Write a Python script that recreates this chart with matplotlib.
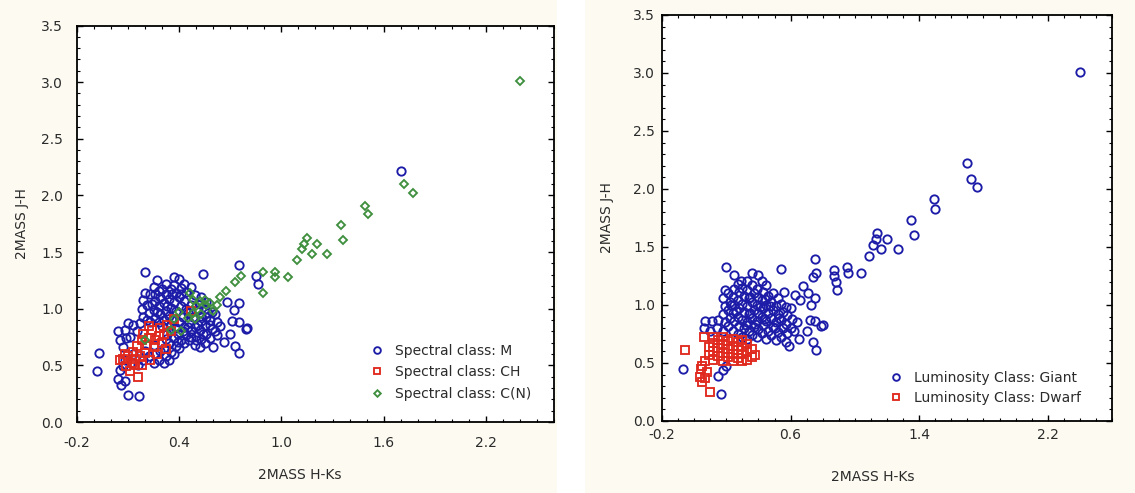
import matplotlib
matplotlib.use("Agg")
import matplotlib.pyplot as plt
from matplotlib.ticker import MultipleLocator, FixedLocator, FormatStrFormatter

plt.rcParams['font.family'] = ['DejaVu Sans']

# ---------------- data: left panel (spectral class) ----------------
spec_M = [
    (-0.07, 0.61), (-0.08, 0.45), (0.04, 0.38), (0.06, 0.33), (0.08, 0.36), (0.10, 0.24),
    (0.165, 0.23), (0.05, 0.46), (0.07, 0.49),
    (0.75, 1.39), (0.54, 1.31), (0.85, 1.29), (0.86, 1.22), (1.70, 2.22),
    (0.75, 1.05), (0.72, 0.99), (0.68, 1.06), (0.71, 0.89), (0.75, 0.88), (0.80, 0.83),
    (0.79, 0.82), (0.73, 0.67), (0.75, 0.61), (0.66, 0.71), (0.70, 0.78), (0.60, 0.66),
    (0.62, 0.77), (0.64, 0.85), (0.58, 0.86),
    (0.05, 0.72), (0.04, 0.80),
    (0.08, 0.55), (0.07, 0.66), (0.09, 0.74), (0.08, 0.81), (0.10, 0.87),
    (0.12, 0.52), (0.13, 0.60), (0.11, 0.75), (0.13, 0.86),
    (0.16, 0.50), (0.15, 0.80), (0.17, 0.87),
    (0.19, 0.55), (0.20, 0.63), (0.19, 0.93), (0.18, 1.00), (0.19, 1.08), (0.20, 1.14), (0.20, 1.32),
    (0.22, 0.58), (0.23, 0.88), (0.22, 0.96), (0.21, 1.03), (0.23, 1.13),
    (0.25, 0.52), (0.26, 0.60), (0.25, 0.68), (0.26, 0.92), (0.25, 0.99), (0.26, 1.07), (0.25, 1.19), (0.27, 1.25),
    (0.28, 0.55), (0.29, 0.63), (0.28, 0.88), (0.29, 0.95), (0.28, 1.02), (0.29, 1.10), (0.28, 1.16),
    (0.31, 0.52), (0.32, 0.58), (0.31, 0.65), (0.32, 0.73), (0.31, 0.90), (0.32, 0.98),
    (0.31, 1.05), (0.32, 1.13), (0.32, 1.22),
    (0.34, 0.55), (0.35, 0.62), (0.34, 0.70), (0.35, 0.86), (0.34, 0.94), (0.35, 1.01),
    (0.34, 1.09), (0.35, 1.17),
    (0.37, 0.60), (0.38, 0.67), (0.37, 0.74), (0.38, 0.83), (0.38, 0.98), (0.37, 1.06),
    (0.38, 1.14), (0.37, 1.21), (0.37, 1.28),
    (0.40, 0.65), (0.41, 0.72), (0.40, 0.88), (0.41, 1.02), (0.40, 1.10), (0.41, 1.18), (0.40, 1.26),
    (0.43, 0.70), (0.44, 0.77), (0.43, 0.84), (0.44, 1.00), (0.43, 1.07), (0.44, 1.15), (0.43, 1.22),
    (0.46, 0.72), (0.47, 0.80), (0.46, 0.88), (0.47, 1.03), (0.47, 1.19),
    (0.49, 0.68), (0.50, 0.76), (0.49, 0.84), (0.51, 0.99), (0.49, 1.12),
    (0.52, 0.66), (0.53, 0.73), (0.52, 0.81), (0.53, 0.89), (0.52, 1.04), (0.53, 1.10),
    (0.55, 0.70), (0.56, 0.78), (0.55, 0.86), (0.56, 0.93), (0.55, 1.00), (0.56, 1.06),
    (0.58, 0.74), (0.59, 0.82), (0.58, 0.90), (0.59, 0.97),
    (0.61, 0.80), (0.62, 0.88), (0.61, 0.95),
    (0.33, 0.78), (0.36, 0.90), (0.39, 0.78), (0.42, 0.93), (0.45, 0.84), (0.48, 0.93),
    (0.51, 0.86), (0.54, 0.78), (0.30, 0.85), (0.27, 0.97), (0.24, 1.04), (0.36, 1.13),
    (0.42, 0.80), (0.45, 0.96), (0.50, 0.72), (0.57, 0.96), (0.39, 0.71), (0.33, 1.02),
    (0.30, 1.17), (0.26, 1.13), (0.21, 0.90), (0.41, 1.13), (0.47, 0.75), (0.53, 0.94),
]
spec_CH = [
    (0.05, 0.55), (0.07, 0.56), (0.09, 0.49), (0.10, 0.58), (0.12, 0.52), (0.14, 0.50),
    (0.13, 0.62), (0.16, 0.40), (0.17, 0.58), (0.15, 0.67), (0.18, 0.72), (0.20, 0.61),
    (0.21, 0.68), (0.19, 0.78), (0.22, 0.74), (0.24, 0.81), (0.23, 0.55), (0.25, 0.66),
    (0.26, 0.72), (0.27, 0.60), (0.28, 0.76), (0.29, 0.83), (0.30, 0.70), (0.31, 0.78),
    (0.33, 0.86), (0.32, 0.64), (0.35, 0.80), (0.37, 0.91), (0.47, 0.98), (0.11, 0.45),
    (0.18, 0.50), (0.22, 0.85), (0.08, 0.60), (0.14, 0.56),
]
spec_CN = [
    (2.40, 3.01), (1.72, 2.10), (1.77, 2.02), (1.49, 1.91), (1.51, 1.84), (1.35, 1.74),
    (1.36, 1.61), (1.15, 1.62), (1.13, 1.57), (1.12, 1.53), (1.18, 1.48), (1.21, 1.57),
    (1.27, 1.48), (1.09, 1.43), (1.04, 1.28), (0.96, 1.32), (0.96, 1.28), (0.89, 1.32),
    (0.89, 1.14), (0.76, 1.29), (0.73, 1.24), (0.675, 1.16), (0.64, 1.10), (0.62, 1.03),
    (0.465, 1.14), (0.48, 1.08), (0.52, 1.07), (0.55, 1.08), (0.50, 1.02), (0.56, 1.03),
    (0.48, 0.96), (0.45, 0.92), (0.40, 0.97), (0.37, 0.91), (0.35, 0.81), (0.20, 0.72),
    (0.41, 0.80), (0.49, 0.91), (0.60, 0.98), (0.58, 1.05), (0.53, 0.95),
]

# ---------------- data: right panel (luminosity class) ----------------
lum_giant = [
    (2.40, 3.01), (1.70, 2.22), (1.72, 2.09), (1.76, 2.02), (1.49, 1.91), (1.50, 1.83),
    (1.35, 1.73), (1.37, 1.60), (1.14, 1.62), (1.13, 1.57), (1.11, 1.52), (1.16, 1.48),
    (1.20, 1.57), (1.27, 1.48), (1.09, 1.42), (1.04, 1.28), (0.95, 1.33), (0.96, 1.28),
    (0.87, 1.30), (0.87, 1.25), (0.88, 1.20), (0.89, 1.13), (0.75, 1.40), (0.76, 1.28),
    (0.74, 1.24), (0.54, 1.31), (0.68, 1.16), (0.71, 1.10), (0.75, 1.06), (0.73, 1.00),
    (0.80, 0.83), (0.79, 0.82), (0.74, 0.68), (0.76, 0.61), (0.70, 0.78), (0.72, 0.87),
    (0.75, 0.86), (0.65, 0.71), (0.59, 0.65), (0.62, 0.78), (0.64, 0.85), (0.66, 1.04),
    (0.63, 1.09), (0.60, 0.97),
    (-0.07, 0.45), (0.165, 0.23), (0.15, 0.39), (0.20, 0.47), (0.18, 0.44),
    (0.06, 0.80), (0.07, 0.86),
    (0.10, 0.78), (0.11, 0.86),
    (0.14, 0.80), (0.15, 0.87),
    (0.18, 0.78), (0.19, 0.85), (0.18, 0.92), (0.19, 0.99), (0.18, 1.06), (0.19, 1.13), (0.20, 1.33),
    (0.21, 0.82), (0.22, 0.89), (0.21, 0.96), (0.22, 1.03), (0.21, 1.10),
    (0.24, 0.78), (0.25, 0.86), (0.24, 0.93), (0.25, 1.00), (0.24, 1.07), (0.25, 1.14), (0.25, 1.26),
    (0.27, 0.75), (0.28, 0.82), (0.27, 0.90), (0.28, 0.97), (0.27, 1.04), (0.28, 1.11), (0.27, 1.18), (0.29, 1.21),
    (0.30, 0.72), (0.31, 0.80), (0.30, 0.87), (0.31, 0.94), (0.30, 1.01), (0.31, 1.08), (0.30, 1.15),
    (0.33, 0.71), (0.34, 0.78), (0.33, 0.85), (0.34, 0.92), (0.33, 0.99), (0.34, 1.06), (0.33, 1.13), (0.33, 1.21),
    (0.36, 0.74), (0.37, 0.81), (0.36, 0.89), (0.37, 0.96), (0.36, 1.03), (0.37, 1.10), (0.36, 1.17), (0.36, 1.28),
    (0.39, 0.72), (0.40, 0.79), (0.39, 0.86), (0.40, 0.93), (0.39, 1.00), (0.40, 1.07), (0.39, 1.14), (0.40, 1.26),
    (0.42, 0.76), (0.43, 0.83), (0.42, 0.90), (0.43, 0.97), (0.42, 1.04), (0.43, 1.11), (0.42, 1.21),
    (0.45, 0.71), (0.46, 0.78), (0.45, 0.86), (0.46, 0.93), (0.45, 1.00), (0.46, 1.08), (0.45, 1.17),
    (0.48, 0.74), (0.49, 0.81), (0.48, 0.89), (0.49, 0.96), (0.48, 1.03), (0.49, 1.10),
    (0.51, 0.70), (0.52, 0.77), (0.51, 0.85), (0.52, 0.92), (0.51, 0.99), (0.52, 1.06),
    (0.54, 0.72), (0.55, 0.80), (0.54, 0.87), (0.55, 0.94), (0.54, 1.01), (0.56, 1.11),
    (0.57, 0.68), (0.58, 0.76), (0.57, 0.84), (0.58, 0.91), (0.57, 0.98),
    (0.60, 0.80), (0.61, 0.88),
    (0.32, 0.83), (0.35, 0.93), (0.38, 0.84), (0.41, 0.98), (0.44, 0.88), (0.47, 0.99),
    (0.50, 0.80), (0.53, 0.89), (0.26, 0.95), (0.23, 1.00), (0.35, 1.07), (0.44, 1.05),
]
lum_dwarf = [
    (-0.06, 0.61), (0.036, 0.38), (0.05, 0.34), (0.10, 0.25), (0.07, 0.37), (0.05, 0.47),
    (0.07, 0.52), (0.06, 0.72), (0.04, 0.45), (0.08, 0.42),
    (0.09, 0.57), (0.09, 0.64),
    (0.12, 0.53), (0.12, 0.60), (0.12, 0.67), (0.12, 0.72),
    (0.15, 0.56), (0.15, 0.63), (0.15, 0.70),
    (0.18, 0.52), (0.18, 0.59), (0.18, 0.66), (0.18, 0.72),
    (0.21, 0.55), (0.21, 0.62), (0.21, 0.69),
    (0.24, 0.52), (0.24, 0.58), (0.24, 0.65), (0.24, 0.71),
    (0.27, 0.54), (0.27, 0.61), (0.27, 0.68),
    (0.30, 0.52), (0.30, 0.58), (0.30, 0.64), (0.30, 0.70),
    (0.33, 0.53), (0.33, 0.60), (0.33, 0.66),
    (0.36, 0.55), (0.36, 0.62), (0.38, 0.57),
]

x_label = "2MASS H-Ks"
y_label = "2MASS J-H"
left_xticks = [-0.2, 0.4, 1.0, 1.6, 2.2]
right_xticks = [-0.2, 0.6, 1.4, 2.2]
y_ticks = [0.0, 0.5, 1.0, 1.5, 2.0, 2.5, 3.0, 3.5]
left_labels = ["Spectral class: M", "Spectral class: CH", "Spectral class: C(N)"]
right_labels = ["Luminosity Class: Giant", "Luminosity Class: Dwarf"]

BLUE = "#1c1ca8"
RED = "#e02a20"
GREEN = "#3f8f3f"
TXT = "#2b2b2b"

W, H = 1135, 493
fig = plt.figure(figsize=(W / 100, H / 100), dpi=100, facecolor="#fcfaf1")


def px_axes(x0, x1, ytop, ybot):
    return fig.add_axes([x0 / W, 1 - ybot / H, (x1 - x0) / W, (ybot - ytop) / H])


def style(ax, xticks, pad):
    ax.set_xlim(-0.2, 2.6)
    ax.set_ylim(0.0, 3.5)
    ax.xaxis.set_major_locator(FixedLocator(xticks))
    ax.xaxis.set_minor_locator(MultipleLocator(0.1))
    ax.yaxis.set_major_locator(FixedLocator(y_ticks))
    ax.yaxis.set_minor_locator(MultipleLocator(0.1))
    ax.xaxis.set_major_formatter(FormatStrFormatter('%.1f'))
    ax.yaxis.set_major_formatter(FormatStrFormatter('%.1f'))
    ax.tick_params(which='both', direction='in', top=True, right=True, colors='black',
                   labelcolor=TXT, labelsize=10, pad=pad)
    ax.tick_params(which='major', length=4, width=1.0)
    ax.tick_params(which='minor', length=2.5, width=0.8)
    for s in ax.spines.values():
        s.set_linewidth(1.3)
        s.set_color('black')
    ax.set_facecolor('white')


def scatter(ax, pts, marker, color, ms, label):
    xs = [p[0] for p in pts]
    ys = [p[1] for p in pts]
    return ax.plot(xs, ys, linestyle='none', marker=marker, markersize=ms,
                   markerfacecolor='none', markeredgecolor=color, markeredgewidth=1.35,
                   label=label)[0]


# white strip between the two pictures
fig.patches.append(plt.Rectangle((557 / W, 0), 28 / W, 1, transform=fig.transFigure,
                                 facecolor='white', edgecolor='none', zorder=-1))

# left panel
axL = px_axes(77, 554, 25.5, 422)
style(axL, left_xticks, 10)
h1 = scatter(axL, spec_M, 'o', BLUE, 6.0, left_labels[0])
h2 = scatter(axL, spec_CH, 's', RED, 5.6, left_labels[1])
h3 = scatter(axL, spec_CN, 'D', GREEN, 4.2, left_labels[2])
legL = axL.legend(handles=[h1, h2, h3], loc='upper left', bbox_to_anchor=(0.60, 0.215),
                  frameon=False, fontsize=10, borderpad=0, handlelength=1.0,
                  handletextpad=0.8, labelspacing=0.55, markerscale=0.8)
for t in legL.get_texts():
    t.set_color(TXT)

# right panel
axR = px_axes(662, 1112, 15, 421)
style(axR, right_xticks, 5)
g1 = scatter(axR, lum_giant, 'o', BLUE, 6.0, right_labels[0])
g2 = scatter(axR, lum_dwarf, 's', RED, 5.6, right_labels[1])
legR = axR.legend(handles=[g1, g2], loc='upper left', bbox_to_anchor=(0.49, 0.14),
                  frameon=False, fontsize=10, borderpad=0, handlelength=1.0,
                  handletextpad=0.8, labelspacing=0.45, markerscale=0.8)
for t in legR.get_texts():
    t.set_color(TXT)

# axis titles
fig.text(300 / W, 1 - 475 / H, x_label, ha='center', va='center', fontsize=10, color=TXT)
fig.text(22 / W, 1 - 224 / H, y_label, ha='center', va='center', rotation=90, fontsize=10, color=TXT)
fig.text(873 / W, 1 - 477 / H, x_label, ha='center', va='center', fontsize=10, color=TXT)
fig.text(607 / W, 1 - 218 / H, y_label, ha='center', va='center', rotation=90, fontsize=10, color=TXT)

fig.savefig("out.png", dpi=100, facecolor=fig.get_facecolor())
